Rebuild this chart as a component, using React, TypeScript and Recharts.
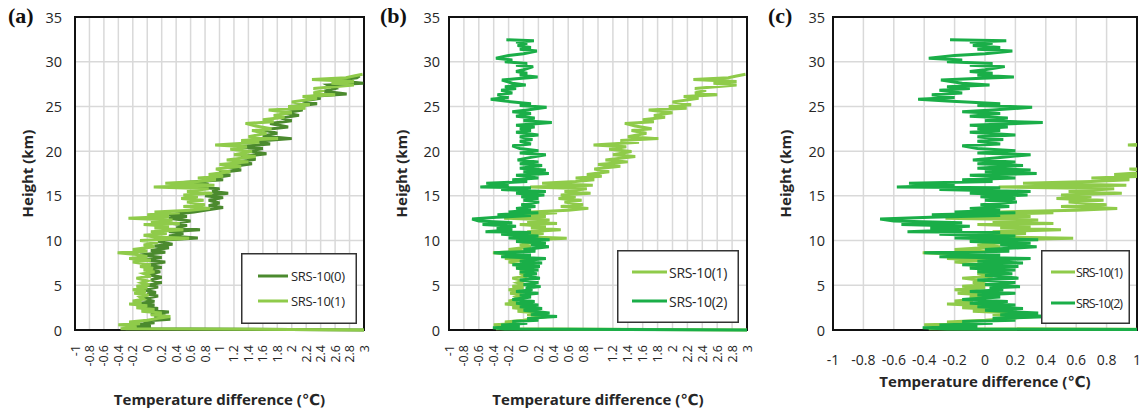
import React from 'react';
import { LineChart, Line, XAxis, YAxis, CartesianGrid, ReferenceArea, Legend, Label } from 'recharts';

// [height km, temperature difference °C]
const SRS10_0: [number, number][] = [
  [0, 3.2], [0.15, -0.3], [0.3, -0.1], [0.45, 0.05], [0.6, -0.2], [0.8, 0.1], [1.0, -0.05], [1.2, 0.32], [1.4, 0.1], [1.6, 0.25],
  [1.8, 0.05], [2.0, 0.3], [2.2, 0.0], [2.4, 0.15], [2.6, -0.05], [2.8, 0.1], [3.0, -0.1], [3.2, 0.1], [3.5, -0.05], [3.8, 0.15],
  [4.0, 0.0], [4.2, 0.12], [4.5, -0.05], [4.8, 0.15], [5.0, 0.0], [5.3, 0.2], [5.6, 0.05], [5.9, 0.2], [6.2, 0.0], [6.5, 0.18],
  [6.8, 0.02], [7.0, 0.2], [7.3, 0.0], [7.6, 0.25], [7.8, -0.05], [8.1, 0.2], [8.4, -0.1], [8.7, 0.25], [8.9, 0.05], [9.2, 0.3],
  [9.4, 0.1], [9.6, 0.35], [9.9, 0.15], [10.1, 0.3], [10.3, 0.7], [10.5, 0.3], [10.8, 0.5], [11.0, 0.3], [11.2, 0.73], [11.4, 0.4],
  [11.7, 0.55], [11.9, 0.35], [12.2, 0.6], [12.5, 0.3], [12.7, 0.55], [12.9, 0.3], [13.2, 0.65], [13.4, 0.8], [13.7, 1.05], [13.9, 0.85],
  [14.2, 1.0], [14.5, 0.85], [14.8, 1.05], [15.0, 0.8], [15.3, 1.12], [15.5, 0.9], [15.8, 1.0], [16.0, 0.6], [16.3, 0.85], [16.5, 0.5],
  [16.8, 1.05], [17.0, 0.9], [17.3, 1.15], [17.6, 1.0], [17.9, 1.3], [18.2, 1.1], [18.6, 1.45], [18.8, 1.25], [19.1, 1.5], [19.4, 1.3],
  [19.7, 1.65], [20.0, 1.4], [20.3, 1.6], [20.5, 1.25], [20.8, 1.7], [21.1, 1.5], [21.4, 2.0], [21.7, 1.6], [22.0, 1.8], [22.4, 1.6],
  [22.7, 1.95], [23.1, 1.7], [23.4, 2.0], [23.7, 1.85], [24.0, 2.1], [24.3, 1.9], [24.6, 2.15], [25.0, 2.0], [25.3, 2.35], [25.6, 2.15],
  [25.9, 2.4], [26.1, 2.25], [26.4, 2.76], [26.7, 2.45], [27.0, 2.6], [27.4, 2.5], [27.6, 2.99], [27.9, 2.6], [28.2, 2.9], [28.4, 2.94],
];

const SRS10_1: [number, number][] = [
  [0, 3.2], [0.15, -0.37], [0.25, -0.2], [0.4, -0.15], [0.6, -0.4], [0.7, -0.1], [0.9, -0.25], [1.1, 0.0], [1.3, 0.15], [1.5, 0.32],
  [1.7, 0.05], [1.9, 0.2], [2.1, -0.08], [2.3, 0.1], [2.5, -0.15], [2.7, 0.0], [2.9, -0.25], [3.05, -0.08], [3.25, -0.2], [3.45, -0.05],
  [3.7, -0.1], [3.9, 0.02], [4.1, -0.18], [4.3, -0.02], [4.5, -0.2], [4.7, 0.0], [4.9, -0.15], [5.05, 0.03], [5.3, -0.08], [5.5, 0.0],
  [5.8, -0.15], [6.0, 0.05], [6.3, -0.05], [6.5, 0.1], [6.7, -0.05], [6.9, 0.08], [7.1, -0.1], [7.3, 0.05], [7.6, -0.2], [7.8, 0.05],
  [8.0, -0.25], [8.2, 0.0], [8.45, -0.15], [8.65, -0.41], [8.8, 0.0], [9.0, -0.2], [9.3, 0.1], [9.5, -0.05], [9.8, 0.15], [10.0, -0.1],
  [10.25, 0.58], [10.4, 0.1], [10.6, -0.05], [10.8, 0.27], [11.0, 0.05], [11.2, 0.5], [11.4, 0.1], [11.6, 0.3], [11.8, -0.05], [11.9, 0.45],
  [12.1, 0.05], [12.3, 0.35], [12.5, -0.26], [12.7, 0.3], [12.9, 0.0], [13.1, 0.45], [13.2, 0.1], [13.4, 0.6], [13.6, 0.87], [13.8, 0.5],
  [14.0, 0.8], [14.3, 0.55], [14.5, 0.78], [14.7, 0.47], [14.9, 0.7], [15.1, 0.5], [15.3, 0.9], [15.5, 0.55], [15.8, 0.85], [16.0, 0.09],
  [16.2, 0.93], [16.4, 0.25], [16.6, 0.7], [16.8, 0.95], [17.0, 0.7], [17.2, 1.05], [17.4, 0.85], [17.7, 1.15], [18.0, 0.95], [18.3, 1.3],
  [18.5, 1.0], [18.8, 1.4], [19.0, 1.1], [19.4, 1.5], [19.6, 1.2], [19.95, 1.45], [20.2, 1.15], [20.5, 1.38], [20.7, 0.94], [21.0, 1.55],
  [21.2, 1.3], [21.4, 1.81], [21.6, 1.4], [22.0, 1.65], [22.3, 1.45], [22.5, 1.72], [22.8, 1.5], [23.1, 1.36], [23.3, 1.75], [23.5, 1.6],
  [23.8, 1.9], [24.0, 1.75], [24.3, 2.0], [24.6, 1.68], [24.8, 2.19], [25.0, 1.95], [25.2, 2.25], [25.5, 2.0], [25.9, 2.35], [26.1, 2.15],
  [26.3, 2.6], [26.5, 2.3], [26.8, 2.45], [27.0, 2.3], [27.4, 2.86], [27.6, 2.55], [27.8, 2.86], [28.0, 2.28], [28.2, 2.75], [28.4, 2.86],
  [28.6, 2.98],
];

const SRS10_2: [number, number][] = [
  [0, 3.2], [0.1, -0.25], [0.25, -0.41], [0.4, -0.05], [0.55, -0.3], [0.75, 0.05], [0.95, -0.15], [1.1, 0.2], [1.3, 0.05], [1.5, 0.45],
  [1.7, 0.1], [1.9, 0.35], [2.2, 0.0], [2.4, 0.25], [2.6, -0.05], [2.8, 0.2], [3.0, -0.1], [3.2, 0.15], [3.4, -0.15], [3.7, 0.1],
  [3.9, -0.05], [4.1, 0.2], [4.3, -0.1], [4.5, 0.12], [4.7, 0.03], [4.85, 0.23], [5.1, 0.0], [5.3, 0.2], [5.6, -0.05], [5.8, 0.22],
  [6.1, 0.0], [6.3, 0.18], [6.5, -0.05], [6.7, 0.2], [6.9, -0.1], [7.1, 0.22], [7.3, -0.15], [7.5, 0.25], [7.7, -0.05], [8.0, 0.3],
  [8.2, -0.3], [8.4, 0.1], [8.65, -0.4], [8.8, 0.16], [9.0, 0.0], [9.3, 0.34], [9.5, 0.1], [9.7, 0.3], [9.9, -0.1], [10.1, 0.35],
  [10.3, -0.2], [10.5, 0.2], [10.7, -0.3], [10.9, 0.1], [11.0, -0.51], [11.2, -0.15], [11.4, -0.36], [11.6, -0.1], [11.8, -0.55], [12.0, -0.15],
  [12.2, -0.6], [12.4, -0.69], [12.6, -0.36], [12.8, 0.1], [12.9, -0.35], [13.1, 0.2], [13.2, -0.2], [13.4, 0.1], [13.6, -0.1], [13.8, 0.16],
  [14.0, -0.03], [14.3, 0.21], [14.5, 0.0], [14.7, 0.2], [14.9, -0.03], [15.1, 0.28], [15.3, -0.1], [15.5, 0.3], [15.7, -0.3], [15.9, 0.1],
  [16.0, -0.58], [16.2, -0.2], [16.4, -0.5], [16.6, 0.05], [16.8, -0.15], [17.0, 0.2], [17.3, -0.1], [17.5, 0.34], [17.7, 0.0], [17.9, 0.3],
  [18.1, -0.05], [18.4, 0.25], [18.6, -0.05], [18.8, 0.2], [19.0, -0.08], [19.3, 0.1], [19.6, 0.3], [19.8, -0.05], [20.05, 0.2], [20.3, -0.05],
  [20.6, -0.15], [20.8, 0.1], [21.1, -0.05], [21.3, 0.12], [21.6, -0.05], [21.8, 0.2], [22.1, -0.1], [22.3, 0.1], [22.5, -0.05], [22.7, 0.15],
  [22.9, -0.1], [23.2, 0.38], [23.4, 0.0], [23.7, 0.15], [23.9, -0.1], [24.2, 0.1], [24.4, -0.15], [24.6, 0.05], [24.9, 0.31], [25.1, -0.05],
  [25.3, 0.1], [25.6, -0.25], [25.8, -0.44], [26.0, -0.2], [26.3, -0.35], [26.5, -0.15], [26.8, -0.3], [27.0, -0.1], [27.2, -0.25], [27.4, 0.03],
  [27.6, -0.15], [27.95, -0.29], [28.1, -0.1], [28.3, 0.19], [28.5, -0.05], [28.7, 0.05], [28.9, -0.1], [29.1, 0.0], [29.45, 0.13], [29.6, -0.1],
  [29.8, 0.05], [30.0, -0.25], [30.2, -0.15], [30.4, -0.37], [30.7, -0.2], [30.9, 0.0], [31.2, 0.18], [31.4, -0.05], [31.6, 0.1], [31.8, -0.08],
  [32.05, 0.05], [32.2, -0.1], [32.35, 0.14], [32.45, -0.23],
];

const X_TICKS_AB = [-1, -0.8, -0.6, -0.4, -0.2, 0, 0.2, 0.4, 0.6, 0.8, 1, 1.2, 1.4, 1.6, 1.8, 2, 2.2, 2.4, 2.6, 2.8, 3];
const X_TICKS_C = [-1, -0.8, -0.6, -0.4, -0.2, 0, 0.2, 0.4, 0.6, 0.8, 1];
const Y_TICKS = [0, 5, 10, 15, 20, 25, 30, 35];

const NAME_0 = 'SRS-10(0)';
const NAME_1 = 'SRS-10(1)';
const NAME_2 = 'SRS-10(2)';
const X_TITLE = 'Temperature difference (℃)';
const Y_TITLE = 'Height (km)';

const C0 = '#4b8a2e';
const C1 = '#8fcb4a';
const C2 = '#1aae48';

const FONT = '"Open Sans", "DejaVu Sans", sans-serif';
const TXT = '#262626';

const toRows = (arr: [number, number][]) => arr.map(([h, t]) => ({ h, t }));
const D0 = toRows(SRS10_0);
const D1 = toRows(SRS10_1);
const D2 = toRows(SRS10_2);

const RotTick = (p: any) => {
  const x = p.x;
  const y = p.y + 15;
  return (
    <text x={x} y={y} transform={`rotate(-90 ${x} ${y})`} textAnchor="end" dominantBaseline="central"
      fontSize={12.5} fill={TXT} fontFamily={FONT}>{String(p.payload.value)}</text>
  );
};

const HorTick = (p: any) => (
  <text x={p.x} y={p.y + 29} textAnchor="middle" dominantBaseline="central" fontSize={14} fill={TXT} fontFamily={FONT}>
    {String(p.payload.value)}
  </text>
);

const makeYTick = (gap: number) => (p: any) => (
  <text x={p.x - gap} y={p.y} textAnchor="end" dominantBaseline="central" fontSize={14.5} fill={TXT} fontFamily={FONT}>
    {String(p.payload.value)}
  </text>
);

const makeLegend = (cfg: { w: number; h: number; rows: number[]; lx1: number; lx2: number; tx: number; fs: number; ls: number }) =>
  (props: any) => {
    const items = (props.payload || []) as any[];
    return (
      <svg width={cfg.w} height={cfg.h} style={{ display: 'block' }}>
        <rect x={0.75} y={0.75} width={cfg.w - 1.5} height={cfg.h - 1.5} fill="#fff" stroke="#333" strokeWidth={1.5} />
        {items.map((it, i) => (
          <g key={i}>
            <line x1={cfg.lx1} x2={cfg.lx2} y1={cfg.rows[i]} y2={cfg.rows[i]} stroke={it.color} strokeWidth={3} />
            <text x={cfg.tx} y={cfg.rows[i]} dominantBaseline="central" fontSize={cfg.fs} letterSpacing={cfg.ls}
              fill={TXT} fontFamily={FONT}>{it.value}</text>
          </g>
        ))}
      </svg>
    );
  };

type PanelProps = {
  left: number; width: number; yAxisW: number; rightM: number;
  xDomain: [number, number]; xTicks: number[]; rotated: boolean; xTitleDy: number; yGap: number;
  series: { name: string; color: string; data: any[] }[];
  legend: { left: number; top: number; w: number; h: number; rows: number[]; lx1: number; lx2: number; tx: number; fs: number; ls: number };
  tag: string; tagLeft: number;
};

const Panel = (P: PanelProps) => (
  <div style={{ position: 'absolute', left: P.left, top: 0, width: P.width, height: 410 }}>
    <LineChart width={P.width} height={410} margin={{ top: 17, right: P.rightM, left: 0, bottom: 0 }}>
      <CartesianGrid stroke="#d9d9d9" strokeWidth={1.5} />
      <XAxis type="number" dataKey="t" domain={P.xDomain} ticks={P.xTicks} interval={0} allowDataOverflow
        height={80} tickSize={0} tickMargin={0} axisLine={false} tickLine={false}
        tick={P.rotated ? <RotTick /> : <HorTick />}>
        <Label content={(lp: any) => {
          const vb = lp.viewBox;
          return (
            <text x={vb.x + vb.width / 2} y={vb.y + P.xTitleDy} textAnchor="middle" dominantBaseline="central"
              fontSize={15} fontWeight="bold" fill={TXT} fontFamily={FONT}>{X_TITLE}</text>
          );
        }} />
      </XAxis>
      <YAxis type="number" domain={[0, 35]} ticks={Y_TICKS} interval={0} width={P.yAxisW}
        tickSize={0} tickMargin={0} axisLine={false} tickLine={false} tick={makeYTick(P.yGap)}>
        <Label content={(lp: any) => {
          const vb = lp.viewBox;
          const x = vb.x + vb.width - 48;
          const y = vb.y + vb.height / 2;
          return (
            <text x={x} y={y} transform={`rotate(-90 ${x} ${y})`} textAnchor="middle" dominantBaseline="central"
              fontSize={15} fontWeight="bold" fill={TXT} fontFamily={FONT}>{Y_TITLE}</text>
          );
        }} />
      </YAxis>
      {P.series.map((s) => (
        <Line key={s.name} name={s.name} data={s.data} dataKey="h" stroke={s.color} strokeWidth={3}
          dot={false} activeDot={false} isAnimationActive={false} strokeLinejoin="miter" />
      ))}
      <ReferenceArea x1={P.xDomain[0]} x2={P.xDomain[1]} y1={0} y2={35} fill="none" stroke="#111" strokeWidth={2} ifOverflow="visible" />
      <Legend layout="horizontal" verticalAlign="middle" align="center" content={makeLegend(P.legend)}
        wrapperStyle={{ position: 'absolute', left: P.legend.left, top: P.legend.top, width: P.legend.w, height: P.legend.h, bottom: 'auto', right: 'auto', margin: 0 }} />
    </LineChart>
    <div style={{ position: 'absolute', left: P.tagLeft, top: 5, fontFamily: '"Liberation Serif", serif',
      fontWeight: 'bold', fontSize: 22, lineHeight: 1, color: '#111' }}>{P.tag}</div>
  </div>
);

export default function App() {
  return (
    <div style={{ position: 'absolute', left: 0, top: 0, width: 1146, height: 410, background: '#fff', overflow: 'hidden' }}>
      <Panel left={0} width={380} yAxisW={75} rightM={16} xDomain={[-1, 3]} xTicks={X_TICKS_AB} rotated xTitleDy={69} yGap={13}
        series={[{ name: NAME_0, color: C0, data: D0 }, { name: NAME_1, color: C1, data: D1 }]}
        legend={{ left: 241, top: 253, w: 116, h: 71, rows: [23, 48], lx1: 17, lx2: 47, tx: 50, fs: 13, ls: -0.3 }} tag="(a)" tagLeft={8} />
      <Panel left={380} width={380} yAxisW={69} rightM={13} xDomain={[-1, 3]} xTicks={X_TICKS_AB} rotated xTitleDy={69} yGap={9}
        series={[{ name: NAME_1, color: C1, data: D1 }, { name: NAME_2, color: C2, data: D2 }]}
        legend={{ left: 237, top: 250, w: 122, h: 73, rows: [22, 51], lx1: 15, lx2: 50, tx: 52, fs: 14, ls: -0.3 }} tag="(b)" tagLeft={0} />
      <Panel left={760} width={386} yAxisW={73} rightM={9} xDomain={[-1, 1]} xTicks={X_TICKS_C} rotated={false} xTitleDy={51} yGap={8}
        series={[{ name: NAME_1, color: C1, data: D1 }, { name: NAME_2, color: C2, data: D2 }]}
        legend={{ left: 281, top: 250, w: 89, h: 74, rows: [22, 53], lx1: 10, lx2: 34, tx: 35, fs: 12.5, ls: -0.9 }} tag="(c)" tagLeft={8} />
    </div>
  );
}
